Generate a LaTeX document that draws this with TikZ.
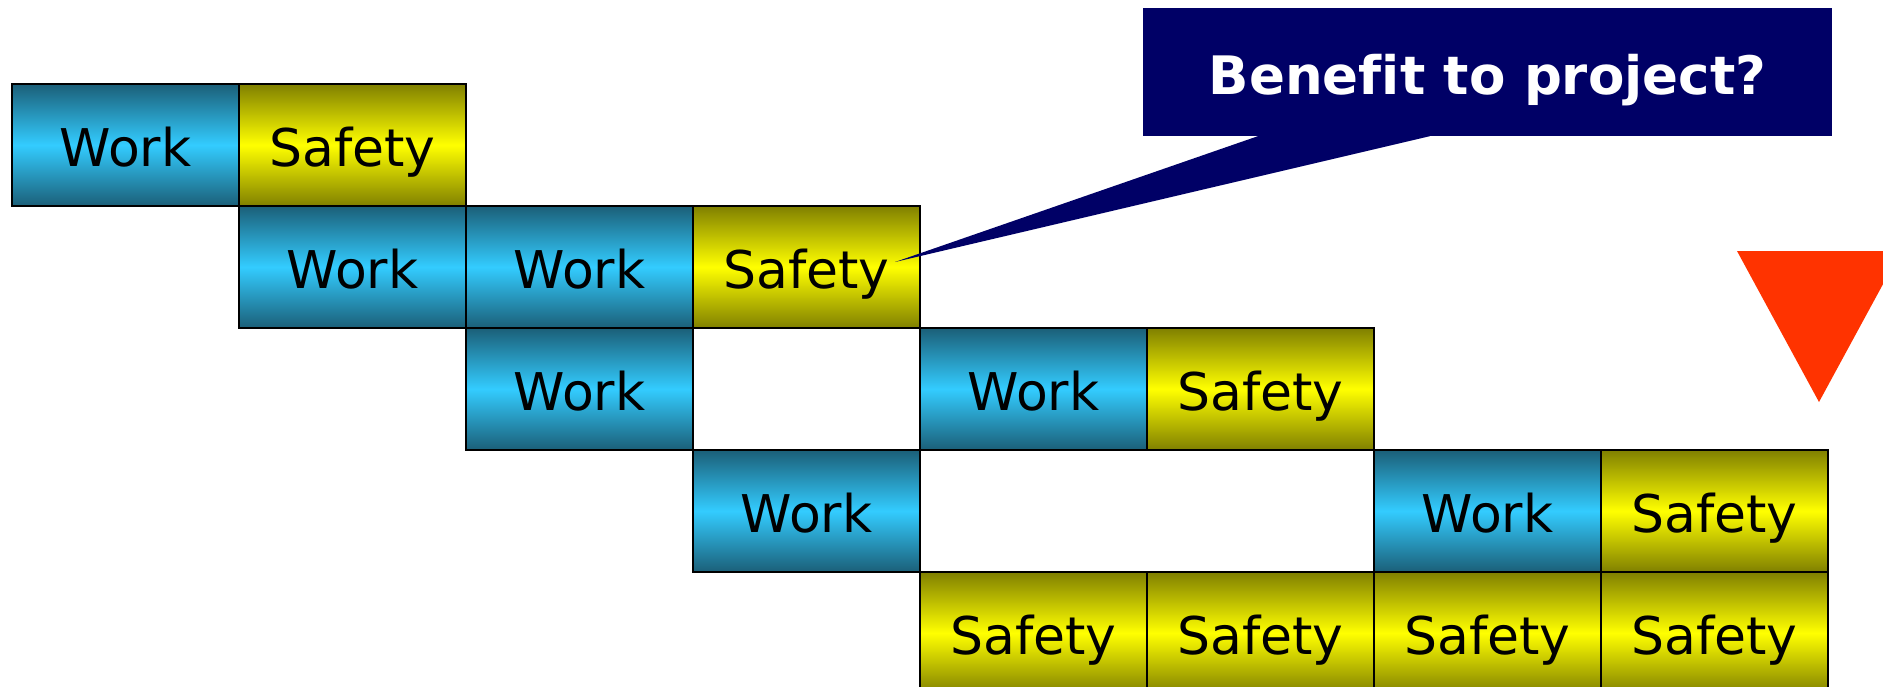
\documentclass[tikz,border=0pt]{standalone}
\usepackage{fontspec}
\setmainfont{DejaVu Sans}
\newfontfamily\calloutfont[Ligatures=NoCommon]{DejaVu Sans}
\usepackage{tikz}

\definecolor{cyanmid}{HTML}{33CCFF}
\definecolor{cyanedge}{HTML}{1B5F78}
\definecolor{yelmid}{HTML}{FFFF00}
\definecolor{yeledge}{HTML}{808000}
\definecolor{calloutblue}{HTML}{000066}
\definecolor{warnred}{HTML}{FF3300}

\tikzset{
  cell/.style={draw=black, line width=1.3pt, minimum width=227pt, minimum height=122pt,
    inner sep=0pt, text height=43pt, text depth=0pt, font=\fontsize{52pt}{60pt}\selectfont},
  work/.style={cell, top color=cyanedge, bottom color=cyanedge, middle color=cyanmid},
  safety/.style={cell, top color=yeledge, bottom color=yeledge, middle color=yelmid},
}

\begin{document}
\begin{tikzpicture}[x=1pt, y=-1pt]
	\useasboundingbox (0,0) rectangle (1883,686);
	% row 0
	\node[work]   (w0a) at (125.5,145) {Work};
	\node[safety] (s0)  at (352.5,145) {Safety};
	% row 1
	\node[work]   (w1a) at (352.5,267) {Work};
	\node[work]   (w1b) at (579.5,267) {Work};
	\node[safety] (s1)  at (806.5,267) {Safety};
	% row 2
	\node[work]   (w2a) at (579.5,389) {Work};
	\node[work]   (w2b) at (1033.5,389) {Work};
	\node[safety] (s2)  at (1260.5,389) {Safety};
	% row 3
	\node[work]   (w3a) at (806.5,511) {Work};
	\node[work]   (w3b) at (1487.5,511) {Work};
	\node[safety] (s3)  at (1714.5,511) {Safety};
	% row 4
	\node[safety] (s4a) at (1033.5,633) {Safety};
	\node[safety] (s4b) at (1260.5,633) {Safety};
	\node[safety] (s4c) at (1487.5,633) {Safety};
	\node[safety] (s4d) at (1714.5,633) {Safety};
	% callout
	\coordinate (tip) at (895,262);
	\node[fill=calloutblue, minimum width=689pt, minimum height=128pt, text=white,
	  font=\calloutfont\fontsize{53pt}{60pt}\selectfont\bfseries, text height=44pt, text depth=0pt]
	  (ask) at (1487.5,72) {Benefit to project?};
	\fill[calloutblue] ([xshift=115pt]ask.south west) -- (tip) -- ([xshift=287pt]ask.south west) -- cycle;
	% warning triangle
	\fill[warnred] (1737,251) -- (1901,251) -- (1819,402) -- cycle;
\end{tikzpicture}
\end{document}
